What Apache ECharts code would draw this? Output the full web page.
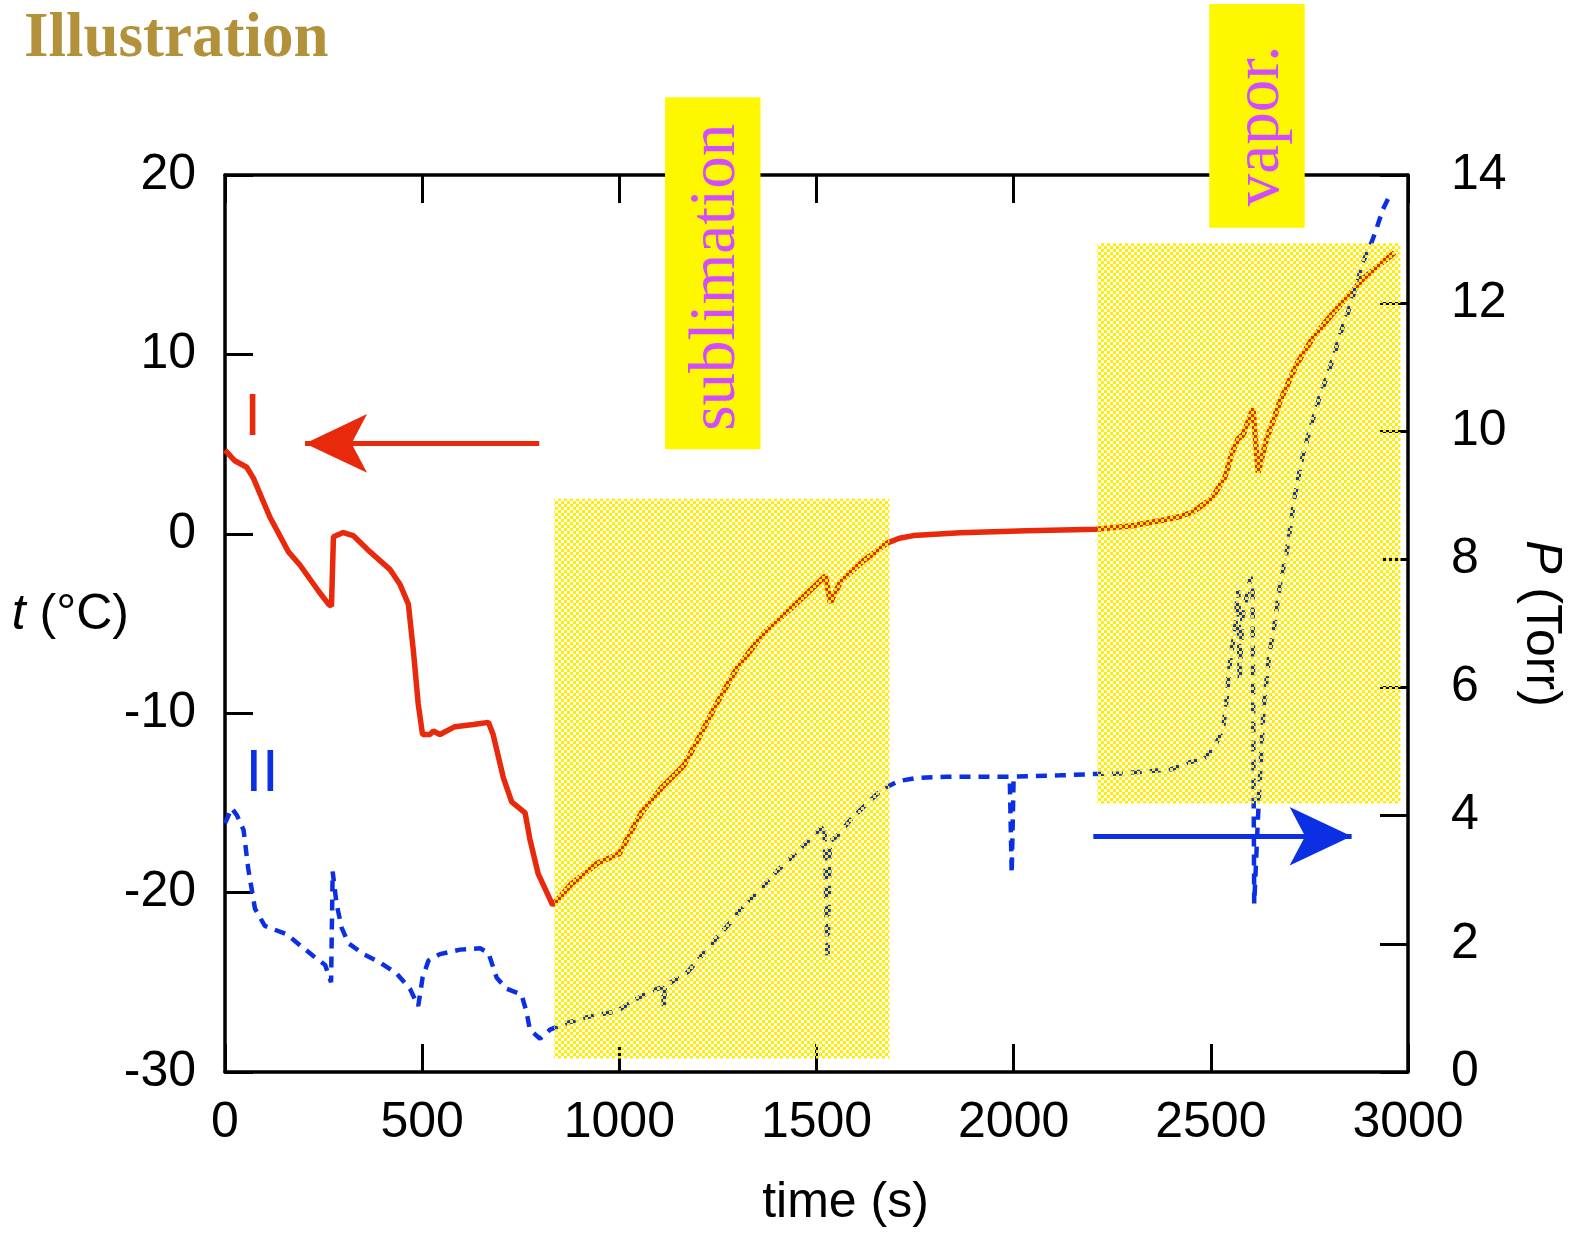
<!DOCTYPE html>
<html><head><meta charset="utf-8">
<script src="https://cdn.jsdelivr.net/npm/echarts@6/dist/echarts.min.js"></script>
<style>html,body{margin:0;padding:0;background:#fff}#c{width:1575px;height:1241px}</style>
</head><body><div id="c"></div>
<script>
// ---- data ----
const timeI = [0,25,55,72,114,161,190,237,262,270,275,300,325,368,418,444,465,478,490,501,520,528,545,583,630,668,680,706,727,761,773,794,831,878,945,1000,1021,1055,1110,1164,1198,1249,1299,1367,1451,1523,1535,1561,1620,1679,1710,1746,1864,2033,2210,2300,2371,2420,2455,2497,2506,2536,2553,2569,2582,2607,2620,2641,2675,2718,2759,2802,2844,2886,2928,2966];
const tempI = [4.67,4.07,3.71,3.1,0.92,-1.01,-1.74,-3.19,-3.91,-4.04,-0.17,0.07,-0.1,-1.01,-1.98,-2.83,-3.92,-6.59,-9.49,-11.19,-11.19,-10.99,-11.19,-10.75,-10.63,-10.51,-11.19,-13.61,-14.94,-15.55,-17.0,-18.94,-20.7,-19.53,-18.35,-17.83,-16.96,-15.58,-14.09,-12.9,-11.52,-9.38,-7.46,-5.53,-3.84,-2.34,-3.84,-2.66,-1.49,-0.52,-0.25,-0.1,0.06,0.17,0.25,0.45,0.73,0.95,1.23,1.88,2.1,3.16,4.47,5.3,5.52,6.97,3.41,5.26,7.36,9.47,10.93,12.1,13.16,14.22,15.0,15.67];
const timeII = [0,17,30,47,59,76,101,156,190,224,254,269,273,283,296,313,351,393,435,469,490,501,516,545,596,647,668,689,714,752,765,773,799,824,865,907,949,992,1034,1080,1110,1113,1116,1131,1173,1208,1245,1281,1316,1357,1399,1443,1483,1520,1528,1534,1552,1588,1628,1666,1708,1755,1831,1990,1995,2000,2118,2203,2270,2354,2397,2439,2485,2510,2531,2540,2545,2550,2557,2563,2567,2570,2573,2580,2589,2601,2606,2610,2622,2634,2648,2662,2675,2692,2713,2730,2751,2776,2793,2810,2831,2848,2861,2886,2907,2920,2936,2956];
const pressII = [3.88,4.12,4.01,3.78,3.17,2.55,2.28,2.15,1.98,1.81,1.67,1.4,3.13,2.62,2.25,2.01,1.84,1.71,1.54,1.3,1.03,1.47,1.74,1.84,1.91,1.93,1.86,1.47,1.3,1.21,0.93,0.66,0.52,0.66,0.76,0.84,0.90,0.94,1.11,1.26,1.33,1.02,1.35,1.40,1.56,1.81,2.08,2.33,2.6,2.85,3.13,3.39,3.63,3.86,1.77,3.6,3.68,3.95,4.19,4.41,4.54,4.59,4.61,4.61,3.1,4.61,4.63,4.65,4.66,4.7,4.72,4.82,4.9,5.08,5.36,5.8,6.2,6.46,6.74,7.0,7.42,7.52,6.12,7.1,7.37,7.73,7.5,2.63,4.3,5.7,6.5,7.0,7.6,8.1,8.99,9.54,10.02,10.54,10.83,11.14,11.57,11.86,12.12,12.64,12.94,13.16,13.46,13.71];
const xRange = [0, 3000, 500];
const tRange = [-30, 20, 10];
const pRange = [0, 14, 2];
const phaseNames = ['sublimation', 'vapor.'];
// shaded phase regions: [tStart, tEnd, Tlow, Thigh]
const phaseShade = [[835, 1685, -29.25, 1.95], [2212, 2981, -15.04, 16.19]];
// label boxes: [tStart, tEnd, Tlow, Thigh]
const phaseBox = [[1116, 1358, 4.71, 24.33], [2496, 2738, 17.06, 29.53]];
// arrows: [tFrom, tTo, value]
const arrowI = [797, 203, 5.04];
const arrowII = [2202, 2857, 3.68];
const labelPos = { I: [70, 6.43], II: [94, -13.4] };

// ---- build ----
const SANS = '"Liberation Sans", Arial, sans-serif';
const SERIF = '"Liberation Serif", "Times New Roman", serif';
const RED = '#E8290B', BLUE = '#0B2FE3';
const pat = document.createElement('canvas'); pat.width = 6; pat.height = 6;
const pc = pat.getContext('2d'); pc.fillStyle = '#FFEE00'; pc.fillRect(0,0,3,3); pc.fillRect(3,3,3,3);

const seriesI = timeI.map((t,i) => [t, tempI[i]]);
const seriesII = timeII.map((t,i) => [t, pressII[i]]);

const axisLine = {onZero:false, lineStyle:{color:'#000', width:3.5}};
const tick = {inside:true, length:28, lineStyle:{color:'#000', width:3}};
const FS = 50;
const lab = {fontSize:FS, color:'#000', fontFamily:SANS};
const plain = v => String(v);

const chart = echarts.init(document.getElementById('c'));
chart.setOption({
  animation:false,
  title:{text:'Illustration', left:24, top:8, padding:0,
    textStyle:{fontFamily:SERIF, fontWeight:'bold', fontSize:63, color:'#B3913A'}},
  grid:{left:225, right:167, top:175, bottom:169, containLabel:false, outerBoundsMode:'none'},
  xAxis:[
    {type:'value', min:xRange[0], max:xRange[1], interval:xRange[2], position:'bottom',
     axisLine, axisTick:tick, splitLine:{show:false},
     axisLabel:Object.assign({margin:26, formatter:plain}, lab),
     name:'time (s)', nameLocation:'middle', nameGap:106, nameMoveOverlap:false,
     nameTextStyle:Object.assign({padding:[0,0,0,58]}, lab)},
    {type:'value', min:xRange[0], max:xRange[1], interval:xRange[2], position:'top',
     axisLine, axisTick:tick, splitLine:{show:false}, axisLabel:{show:false}}
  ],
  yAxis:[
    {type:'value', min:tRange[0], max:tRange[1], interval:tRange[2], position:'left',
     axisLine, axisTick:tick, splitLine:{show:false},
     axisLabel:Object.assign({margin:29, formatter:plain}, lab),
     name:'{i|t} (°C)', nameLocation:'middle', nameRotate:0, nameGap:96, nameMoveOverlap:false,
     nameTextStyle:Object.assign({padding:[0,0,16,0], rich:{i:Object.assign({fontStyle:'italic'}, lab)}}, lab)},
    {type:'value', min:pRange[0], max:pRange[1], interval:pRange[2], position:'right',
     axisLine, axisTick:tick, splitLine:{show:false},
     axisLabel:Object.assign({margin:43, align:'left', formatter:plain}, lab),
     name:'{i|P} (Torr)', nameLocation:'middle', nameRotate:-90, nameGap:108, nameMoveOverlap:false,
     nameTextStyle:Object.assign({rich:{i:Object.assign({fontStyle:'italic'}, lab)}}, lab)}
  ],
  series:[
    {type:'line', name:'I', xAxisIndex:0, yAxisIndex:0, data:seriesI, symbol:'none', z:3,
     lineStyle:{color:RED, width:5.5},
     markLine:{silent:true, symbol:['none','arrow'], symbolSize:[44,62], label:{show:false},
       lineStyle:{color:RED, width:5, type:'solid'},
       data:[[{coord:[arrowI[0], arrowI[2]]},{coord:[arrowI[1], arrowI[2]]}]]}},
    {type:'line', name:'II', xAxisIndex:0, yAxisIndex:1, data:seriesII, symbol:'none', z:3,
     lineStyle:{color:BLUE, width:4.5, type:[11,8]},
     markLine:{silent:true, symbol:['none','arrow'], symbolSize:[44,62], label:{show:false},
       lineStyle:{color:BLUE, width:5, type:'solid'},
       data:[[{coord:[arrowII[0], arrowII[2]]},{coord:[arrowII[1], arrowII[2]]}]]}},
    {type:'line', name:'shade', xAxisIndex:0, yAxisIndex:0, data:[], z:5,
     markArea:{silent:true, z:10, itemStyle:{color:{image:pat, repeat:'repeat'}}, label:{show:false},
       data: phaseShade.map(s => [{coord:[s[0], s[2]]},{coord:[s[1], s[3]]}])}}
  ]
});

const px = (t, v, yi) => chart.convertToPixel({xAxisIndex:0, yAxisIndex:yi}, [t, v]);
const gr = [];
const textShift = [[4, 4], [4, 10]];
phaseBox.forEach((b, k) => {
  const a = px(b[0], b[3], 0), c = px(b[1], b[2], 0);
  gr.push({type:'rect', z:100, shape:{x:a[0], y:a[1], width:c[0]-a[0], height:c[1]-a[1]},
           style:{fill:'#FDF800'}});
  gr.push({type:'text', z:101, x:(a[0]+c[0])/2 + textShift[k][0], y:(a[1]+c[1])/2 + textShift[k][1], rotation:Math.PI/2,
           style:{text:phaseNames[k], font:'65px ' + SERIF, fill:'#D24CFF',
                  textAlign:'center', textVerticalAlign:'middle'}});
});
const pI = px(labelPos.I[0], labelPos.I[1], 0), pII = px(labelPos.II[0], labelPos.II[1], 0);
gr.push({type:'text', z:101, x:pI[0], y:pI[1], style:{text:'I', font:'60px ' + SANS, fill:RED, textAlign:'center', textVerticalAlign:'middle'}});
gr.push({type:'text', z:101, x:pII[0], y:pII[1], style:{text:'II', font:'60px ' + SANS, fill:BLUE, textAlign:'center', textVerticalAlign:'middle'}});
chart.setOption({graphic:gr});
</script></body></html>
